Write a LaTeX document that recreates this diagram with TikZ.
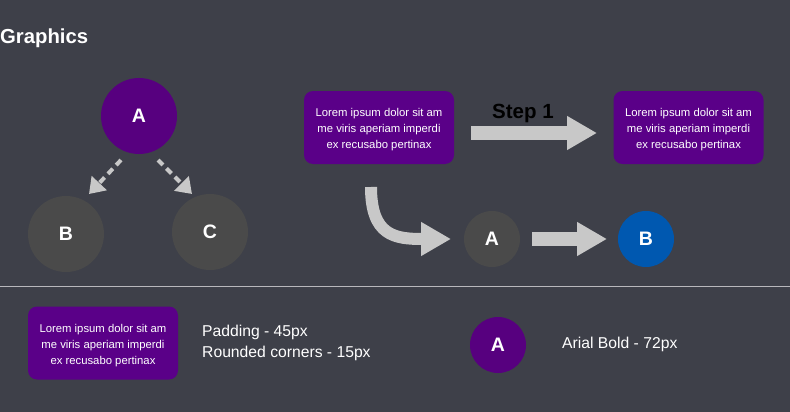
\documentclass[tikz,border=0pt]{standalone}
\usepackage{fontspec}
\setmainfont{Liberation Sans}
\usetikzlibrary{arrows.meta}
\definecolor{bg}{HTML}{3E4049}
\definecolor{purp}{HTML}{57007F}
\definecolor{boxp}{HTML}{5A0088}
\definecolor{grc}{HTML}{4A4A4A}
\definecolor{blu}{HTML}{0058B0}
\definecolor{arr}{HTML}{C8C8C8}
\definecolor{sep}{HTML}{B8B8BC}
\newcommand{\lift}{\rule{0pt}{12.5pt}}
\tikzset{
  circ/.style={circle,minimum size=#1,inner sep=0pt,text=white,font=\fontsize{19.5}{19.5}\selectfont\bfseries},
  lorem/.style={rounded corners=9pt,fill=boxp,minimum width=150pt,minimum height=73pt,text=white,align=center,font=\fontsize{11.3}{16}\selectfont,inner sep=0pt},
  dasharr/.style={arr,line width=4pt,dash pattern=on 7pt off 5pt,-{Triangle[length=15pt,width=20pt]}},
  blockarr/.style={arr,line width=14pt,-{Triangle[length=30pt,width=32pt]}},
  lbl/.style={text=white,anchor=west,inner sep=0pt,font=\fontsize{15.7}{21}\selectfont,align=left}
}
\begin{document}
\begin{tikzpicture}[x=1pt,y=-1pt]
\fill[bg] (0,0) rectangle (790,412);
\useasboundingbox (0,0) rectangle (790,412);
\node[anchor=west,inner sep=0pt,text=white,font=\fontsize{20.3}{20}\selectfont\bfseries] (title) at (0,38) {Graphics};
% tree
\node[circ=76pt,fill=purp] (A) at (139,116) {A};
\node[circ=76pt,fill=grc] (B) at (66,234) {B};
\node[circ=76pt,fill=grc] (C) at (210,232) {C};
\coordinate (ab1) at (121,160); \coordinate (ab2) at (89,194);
\coordinate (ac1) at (158,160); \coordinate (ac2) at (192,194);
\draw[dasharr] (ab1) -- (ab2);
\draw[dasharr] (ac1) -- (ac2);
% top right
\node[lorem] (L1) at (379,127.5) {\lift Lorem ipsum dolor sit am\\me viris aperiam imperdi\\ex recusabo pertinax};
\node[lorem] (L2) at (688.5,127.5) {\lift Lorem ipsum dolor sit am\\me viris aperiam imperdi\\ex recusabo pertinax};
\coordinate (s1) at (471,133); \coordinate (s2) at (597,133);
\draw[blockarr] (s1) -- (s2);
\node[font=\fontsize{20.5}{20}\selectfont\bfseries,text=black,inner sep=0pt] (step) at (523,113) {Step 1};
\node[circ=56pt,fill=grc] (A2) at (492,239) {A};
\node[circ=56pt,fill=blu] (B2) at (646,239) {B};
\coordinate (c1) at (371,187); \coordinate (c2) at (451,239);
\draw[arr,line width=12pt,-{Triangle[length=30pt,width=32pt]}] (c1) .. controls (371,236) and (395,239) .. (c2);
\coordinate (d1) at (532,239); \coordinate (d2) at (607,239);
\draw[blockarr] (d1) -- (d2);
% separator
\coordinate (sepl) at (0,286.5); \coordinate (sepr) at (790,286.5);
\draw[sep,line width=0.8pt] (sepl) -- (sepr);
% bottom
\node[lorem] (L3) at (103,343) {\lift Lorem ipsum dolor sit am\\me viris aperiam imperdi\\ex recusabo pertinax};
\node[lbl] (pad) at (202,343) {Padding - 45px\\Rounded corners - 15px};
\node[circ=56pt,fill=purp] (A3) at (498,345) {A};
\node[lbl] (arial) at (562,344) {Arial Bold - 72px};
\end{tikzpicture}
\end{document}
